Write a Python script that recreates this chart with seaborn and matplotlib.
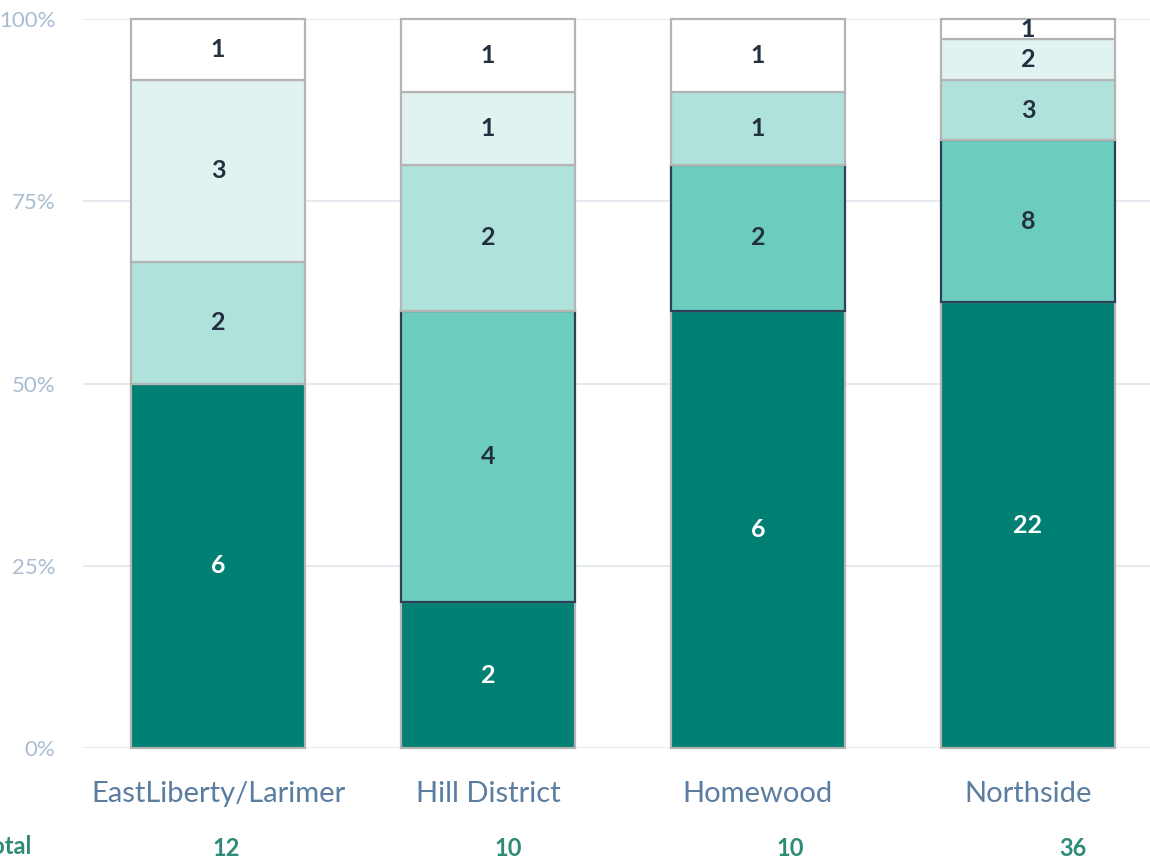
import numpy as np
import pandas as pd
import seaborn as sns
import matplotlib.pyplot as plt

# --- DATA ---
areas = ['EastLiberty/Larimer', 'Hill District', 'Homewood', 'Northside']
# counts per level, bottom layer first
level_1 = [6, 2, 6, 22]
level_2 = [0, 4, 2, 8]
level_3 = [2, 2, 1, 3]
level_4 = [3, 1, 0, 2]
level_5 = [1, 1, 1, 1]
totals = [12, 10, 10, 36]
y_ticks = [0, 0.25, 0.5, 0.75, 1.0]
y_tick_labels = ['0%', '25%', '50%', '75%', '100%']

# --- STYLE ---
layers = [level_1, level_2, level_3, level_4, level_5]
fill_colors = ['#007f73', '#6ccdbf', '#b0e2dc', '#e0f3f1', '#ffffff']
edge_colors = ['#b4b4b4', '#2c4254', '#b4b4b4', '#b4b4b4', '#b4b4b4']
text_colors = ['white', '#22303f', '#22303f', '#22303f', '#22303f']

sns.set_theme(style='white')
plt.rcParams['font.family'] = ['Lato', 'DejaVu Sans']

fig = plt.figure(figsize=(11.5, 8.59), dpi=100)
ax = fig.add_axes([0.0722, 0.1292, 0.9278, 0.8487])

df = pd.DataFrame({'area': areas})
for i, layer in enumerate(layers):
    df[f'l{i}'] = layer
df['total'] = df[[f'l{i}' for i in range(5)]].sum(axis=1)

bottom = np.zeros(len(areas))
for i, layer in enumerate(layers):
    share = df[f'l{i}'] / df['total']
    n_before = len(ax.patches)
    sns.barplot(x=df['area'], y=share, order=areas, ax=ax, width=0.645,
                color=fill_colors[i], saturation=1, edgecolor=edge_colors[i],
                linewidth=1.6, bottom=bottom, zorder=3)
    new_bars = ax.patches[n_before:]
    labels = []
    for bar, v in zip(new_bars, layer):
        bar.set_clip_on(False)
        if v == 0:
            bar.set_visible(False)
        labels.append(str(v) if v > 0 else '')
    ax.bar_label(ax.containers[-1], labels=labels, label_type='center',
                 color=text_colors[i], fontsize=18, fontweight='bold', zorder=5)
    bottom = bottom + share.values

ax.set_xlim(-0.5, 3.452)
ax.set_ylim(0, 1)
ax.set_yticks(y_ticks)
ax.set_yticklabels(y_tick_labels)
ax.set_xlabel('')
ax.set_ylabel('')
ax.grid(axis='y', color='#e6ebf1', linewidth=1.5, zorder=0)
ax.grid(axis='x', visible=False)
sns.despine(ax=ax, left=True, bottom=True)
ax.tick_params(axis='y', colors='#a9bdd2', labelsize=16, length=0, pad=20)
ax.tick_params(axis='x', colors='#5a7da0', labelsize=21, length=0, pad=24)

# totals row
total_x = np.arange(len(areas)) * 1.045 + 0.03
for x, t in zip(total_x, totals):
    ax.text(x, -0.138, str(t), transform=ax.get_xaxis_transform(),
            ha='center', va='center', fontsize=17, fontweight='bold',
            color='#2e8b78')
fig.text(32 / 1150, 1 - 846 / 859, 'Total', ha='right', va='center',
         fontsize=17, fontweight='bold', color='#2e8b78')

fig.savefig('out.png', dpi=100)
